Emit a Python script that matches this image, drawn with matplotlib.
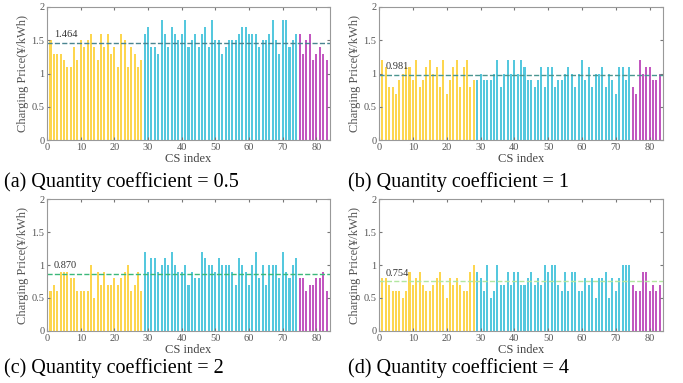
import numpy as np
import matplotlib.pyplot as plt

plt.rcParams['font.family'] = ['Liberation Serif', 'DejaVu Serif']

# CS index 1..83: yellow 1-28, blue 29-74, purple 75-83
price_a = [1.5, 1.3, 1.3, 1.3, 1.2, 1.1, 1.1, 1.4, 1.2, 1.5, 1.4, 1.5, 1.6, 1.4,
           1.2, 1.6, 1.4, 1.6, 1.3, 1.4, 1.1, 1.6, 1.5, 1.1, 1.4, 1.3, 1.1, 1.2,
           1.6, 1.7, 1.4, 1.4, 1.3, 1.8, 1.6, 1.4, 1.7, 1.6, 1.5, 1.6, 1.8, 1.4,
           1.5, 1.6, 1.4, 1.6, 1.7, 1.4, 1.8, 1.5, 1.5, 1.3, 1.4, 1.5, 1.5, 1.5,
           1.6, 1.7, 1.7, 1.6, 1.6, 1.6, 1.4, 1.5, 1.5, 1.6, 1.8, 1.5, 1.3, 1.8,
           1.8, 1.4, 1.5, 1.6,
           1.6, 1.3, 1.5, 1.6, 1.2, 1.3, 1.4, 1.3, 1.2]
price_b = [1.2, 1.1, 0.8, 0.8, 0.7, 0.9, 1.0, 1.1, 1.1, 0.9, 1.2, 0.8, 0.9, 1.1,
           1.2, 1.0, 1.1, 0.8, 1.2, 0.7, 0.9, 1.1, 1.2, 0.8, 1.1, 1.2, 0.8, 0.9,
           0.9, 1.0, 0.9, 0.9, 0.9, 1.0, 1.2, 0.8, 1.0, 1.2, 1.0, 1.2, 1.0, 1.2,
           1.1, 0.9, 0.9, 0.8, 0.9, 1.1, 0.8, 1.1, 1.1, 0.8, 0.9, 0.9, 1.0, 1.1,
           1.0, 0.8, 1.0, 1.2, 0.9, 1.1, 0.8, 1.0, 1.0, 1.1, 0.8, 1.0, 0.9, 0.7,
           1.1, 1.1, 0.9, 1.1,
           0.8, 0.7, 1.2, 1.0, 1.1, 1.1, 0.9, 0.9, 1.0]
price_c = [0.6, 0.7, 0.6, 0.9, 0.9, 0.9, 0.8, 0.8, 0.6, 0.6, 0.6, 0.6, 1.0, 0.5,
           0.9, 0.7, 0.9, 0.7, 0.7, 0.8, 0.7, 0.8, 0.9, 1.0, 0.6, 0.7, 0.9, 0.6,
           1.2, 0.9, 1.1, 1.1, 0.9, 1.0, 1.1, 1.0, 1.2, 1.0, 0.9, 0.9, 1.0, 0.7,
           0.9, 0.8, 0.8, 1.2, 1.1, 1.0, 1.0, 0.9, 1.1, 1.0, 1.0, 1.0, 0.9, 0.7,
           1.1, 1.0, 0.9, 0.7, 1.0, 1.2, 0.8, 1.0, 0.7, 1.0, 1.0, 1.0, 0.8, 1.2,
           0.9, 0.8, 1.0, 1.1,
           0.8, 0.8, 0.6, 0.7, 0.7, 0.8, 0.8, 0.9, 0.6]
price_d = [0.8, 0.8, 0.7, 0.6, 0.6, 0.6, 0.5, 0.6, 0.9, 0.7, 0.8, 0.9, 0.7, 0.6,
           0.6, 0.7, 0.8, 0.9, 0.7, 0.5, 0.8, 0.7, 0.8, 0.7, 0.6, 0.6, 0.9, 1.0,
           0.9, 0.8, 0.6, 1.0, 0.5, 0.6, 1.0, 0.7, 0.7, 0.9, 0.7, 0.9, 0.9, 0.7,
           0.7, 0.8, 0.9, 0.7, 0.8, 0.7, 1.0, 0.9, 1.0, 1.0, 0.7, 0.6, 0.9, 0.6,
           0.9, 0.9, 0.6, 0.6, 0.8, 0.7, 0.8, 0.5, 0.8, 0.8, 0.9, 0.5, 0.8, 0.6,
           0.8, 1.0, 1.0, 1.0,
           0.7, 0.6, 0.6, 0.9, 0.9, 0.6, 0.7, 0.6, 0.7]
mean_vals = [1.464, 0.981, 0.870, 0.754]
captions = ['(a) Quantity coefficient = 0.5', '(b) Quantity coefficient = 1',
            '(c) Quantity coefficient = 2', '(d) Quantity coefficient = 4']
n_yellow, n_blue = 28, 46

line_colors = ['#4a8590', '#4a9590', '#3cb87a', '#b2e6a0']
c_yellow, c_blue, c_purple = '#fdd64f', '#55c8de', '#c257c0'

fig = plt.figure(figsize=(6.83, 3.83), dpi=100)
positions = [[0.069, 0.634, 0.414, 0.348], [0.555, 0.634, 0.416, 0.348],
             [0.069, 0.136, 0.414, 0.344], [0.555, 0.136, 0.416, 0.344]]
cap_pos = [(0.006, 0.512), (0.510, 0.512), (0.006, 0.025), (0.510, 0.025)]

for k, price in enumerate([price_a, price_b, price_c, price_d]):
    ax = fig.add_axes(positions[k])
    idx = np.arange(1, len(price) + 1)
    colors = [c_yellow] * n_yellow + [c_blue] * n_blue + [c_purple] * (len(price) - n_yellow - n_blue)
    ax.bar(idx, price, width=0.6, color=colors, linewidth=0)
    ax.axhline(mean_vals[k], color=line_colors[k], linestyle='--', linewidth=1.0)
    ax.text(2, mean_vals[k] + 0.08, f'{mean_vals[k]:.3f}', fontsize=7.5, color='#333333')
    ax.set_xlim(0, 84)
    ax.set_ylim(0, 2)
    ax.set_xticks(range(0, 81, 10))
    ax.set_yticks([0, 0.5, 1, 1.5, 2])
    ax.set_yticklabels(['0', '0.5', '1', '1.5', '2'])
    ax.tick_params(direction='in', top=True, right=True, length=2.5, labelsize=7.5,
                   colors='#777777', labelcolor='#555555', pad=2)
    for s in ax.spines.values():
        s.set_color('#999999')
        s.set_linewidth(0.8)
    ax.set_xlabel('CS index', fontsize=9, color='#444444', labelpad=1)
    ax.set_ylabel('Charging Price(¥/kWh)', fontsize=9, color='#555555', labelpad=2)
    fig.text(cap_pos[k][0], cap_pos[k][1], captions[k], fontsize=14.5, color='black')

fig.savefig('out.png', dpi=100)
